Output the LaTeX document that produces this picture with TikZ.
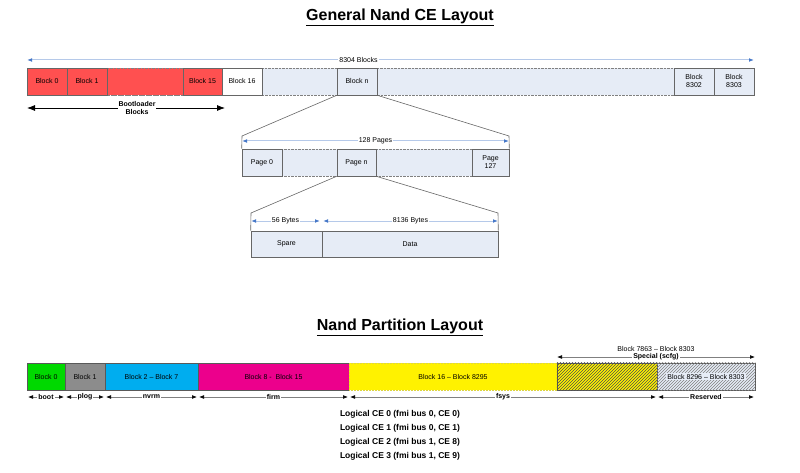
\documentclass[tikz,border=0pt]{standalone}
\usepackage{fontspec}
\setmainfont{Liberation Sans}
\usetikzlibrary{patterns,arrows.meta}
\definecolor{lb}{RGB}{230,236,246}
\definecolor{rd}{RGB}{255,80,80}
\definecolor{ab}{RGB}{70,120,200}
\begin{document}
\begin{tikzpicture}[x=1pt,y=-1pt,
 blk/.style={draw=gray!80!black,line width=0.6pt,fill=lb,font=\fontsize{7}{8}\selectfont,align=center},
 dot/.style={draw=gray,densely dotted,fill=lb},
 dim/.style={draw=ab!40,line width=1pt,{Latex[length=5pt,color=ab]}-{Latex[length=5pt,color=ab]}},
 lab/.style={fill=white,inner sep=1pt,font=\fontsize{7}{8}\selectfont},
 karr/.style={draw=gray,line width=0.6pt,{Latex[length=5pt,color=black]}-{Latex[length=5pt,color=black]}},
 zoomln/.style={draw=gray!80!black,line width=0.6pt}]
\useasboundingbox (0,0) rectangle (800,473);
\node[font=\bfseries\fontsize{16}{18}\selectfont] (t1) at (400,17) {\underline{General Nand CE Layout}};
% top bar
\draw[dot] (27,68) rectangle (754,95);
\draw[dot,fill=rd] (107,68) rectangle (183,95);
\foreach \a/\b/\t/\c/\n in {27/67/Block 0/rd/b0,67/107/Block 1/rd/b1,183/222/Block 15/rd/b15,222/262/Block 16/white/b16,337/377/Block n/lb/bn,674/714/Block\\8302/lb/b8302,714/754/Block\\8303/lb/b8303}
 \node[blk,fill=\c,minimum width=\b-\a,minimum height=27,inner sep=0] (\n) at ({(\a+\b)/2},81.5) {\t};
\coordinate (tl) at (27,60); \coordinate (tr) at (754,60);
\draw[dim] (tl) -- (tr) node[lab,pos=0.456] {8304 Blocks};
\coordinate (bl) at (27,108); \coordinate (br) at (225,108);
\draw[line width=0.8pt,-{Latex[length=8pt]}] (137,108) -- (br);
\draw[line width=0.8pt,-{Latex[length=8pt]}] (137,108) -- (bl);
\node[lab,font=\bfseries\fontsize{7}{8}\selectfont,align=center] (boot) at (137,108) {Bootloader\\Blocks};
% pages
\draw[dot] (242,149) rectangle (509,176);
\foreach \a/\b/\t/\n in {242/282/Page 0/p0,337/376/Page n/pn,472/509/Page\\127/p127}
 \node[blk,minimum width=\b-\a,minimum height=27,inner sep=0] (\n) at ({(\a+\b)/2},162.5) {\t};
\draw[zoomln] (bn.south west) -- (242,136) -- (p0.north west);
\draw[zoomln] (bn.south east) -- (509,136) -- (p127.north east);
\coordinate (pl) at (242,141); \coordinate (pr) at (509,141);
\draw[dim] (pl) -- (pr) node[lab,midway] {128 Pages};
% bytes
\node[blk,minimum width=71,minimum height=26,inner sep=0] (sp) at (286.5,244) {Spare};
\node[blk,minimum width=176,minimum height=26,inner sep=0] (da) at (410,244) {Data};
\draw[zoomln] (pn.south west) -- (251,213) -- (sp.north west);
\draw[zoomln] (pn.south east) -- (498,213) -- (da.north east);
\coordinate (s1) at (251,221); \coordinate (s2) at (320,221);
\coordinate (d1) at (323,221); \coordinate (d2) at (498,221);
\draw[dim] (s1) -- (s2) node[lab,midway] {56 Bytes};
\draw[dim] (d1) -- (d2) node[lab,midway] {8136 Bytes};
% partition
\node[font=\bfseries\fontsize{16}{18}\selectfont] (t2) at (400,327) {\underline{Nand Partition Layout}};
\tikzset{pb/.style={draw=gray!70!black,line width=0.5pt,font=\fontsize{7}{8}\selectfont,minimum height=27,inner sep=0}}
\node[pb,fill=green!85!black,minimum width=38] (q0) at (46,376.5) {Block 0};
\node[pb,fill=gray!90,minimum width=40] (q1) at (85,376.5) {Block 1};
\node[pb,fill=cyan,minimum width=93] (q2) at (151.5,376.5) {Block 2 – Block 7};
\node[pb,fill=magenta,minimum width=151] (q3) at (273.5,376.5) {Block 8 -\ \ Block 15};
\node[pb,fill=yellow,draw=yellow!70!gray,densely dotted,minimum width=208] (q4) at (453,376.5) {Block 16 – Block 8295};
\node[pb,fill=yellow,minimum width=100] (q5) at (607,376.5) {};
\fill[pattern=north east lines,pattern color=black!70] (q5.south west) rectangle (q5.north east);
\node[pb,fill=lb,minimum width=98] (q6) at (706,376.5) {};
\fill[pattern=north east lines,pattern color=gray] (q6.south west) rectangle (q6.north east);
\node[font=\fontsize{7}{8}\selectfont,fill=lb,inner sep=1pt] (q6t) at (706,376.5) {Block 8296 – Block 8303};
\coordinate (sa) at (557,357); \coordinate (sb) at (755,357);
\draw[karr] (sa) -- (sb) node[lab,font=\bfseries\fontsize{7}{8}\selectfont,midway] {Special (scfg)};
\node[font=\fontsize{7}{8}\selectfont] (sl) at (656,349) {Block 7863 – Block 8303};
\foreach \a/\b/\t/\n in {27/65/boot/r0,65/105/plog/r1,105/198/nvrm/r2,198/349/firm/r3,349/657/fsys/r4,657/755/Reserved/r5}{
 \coordinate (\n a) at (\a+1,397); \coordinate (\n b) at (\b-1,397);
 \draw[karr] (\n a) -- (\n b) node[lab,font=\bfseries\fontsize{7}{8}\selectfont,midway] {\t};}
\foreach \y/\t/\n in {414/{0 (fmi bus 0, CE 0)}/c0,428/{1 (fmi bus 0, CE 1)}/c1,442/{2 (fmi bus 1, CE 8)}/c2,456/{3 (fmi bus 1, CE 9)}/c3}
 \node[font=\bfseries\fontsize{8.5}{10}\selectfont] (\n) at (400,\y) {Logical CE \t};
\end{tikzpicture}
\end{document}
